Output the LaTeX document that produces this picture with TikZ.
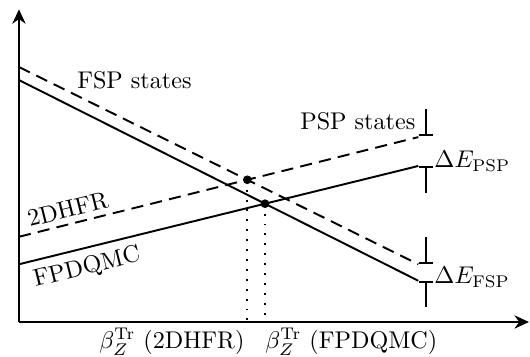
\documentclass[tikz,border=0pt]{standalone}
\usepackage{amsmath}
\usetikzlibrary{arrows.meta}
\tikzset{
  axis/.style={thick,-{Stealth[length=6pt,width=5.5pt]}},
  level/.style={thick},
  hflevel/.style={thick,dash pattern=on 5pt off 3pt},
  gapbar/.style={thick,-{Bar[width=6pt]}},
  drop/.style={line width=0.8pt,dash pattern=on 0.8pt off 3.3pt},
  crossing/.style={circle,fill,inner sep=0pt,minimum size=3.6pt},
}

\begin{document}
\begin{tikzpicture}
    \useasboundingbox (-0.276,-0.495) rectangle (7.435,4.685);
    % axes
    \coordinate (o) at (0,0);
    \coordinate (ytip) at (0,4.55);
    \coordinate (xtip) at (7.42,0);
    \draw[axis] (o) -- (ytip);
    \draw[axis] (o) -- (xtip);

    % FSP states
    \coordinate (fd0) at (0,3.71);
    \coordinate (fd1) at (5.81,0.84);
    \coordinate (fs0) at (0,3.52);
    \coordinate (fs1) at (5.81,0.60);
    % PSP states
    \coordinate (pd0) at (0,1.24);
    \coordinate (pd1) at (5.81,2.69);
    \coordinate (ps0) at (0,0.84);
    \coordinate (ps1) at (5.81,2.27);

    \draw[hflevel] (fd0) -- (fd1);
    \draw[level] (fs0) -- (fs1);
    \draw[hflevel] (pd0) -- (pd1);
    \draw[level] (ps0) -- (ps1);

    % crossings
    \coordinate (xd) at (intersection of fd0--fd1 and pd0--pd1);
    \coordinate (xs) at (intersection of fs0--fs1 and ps0--ps1);
    \coordinate (xdfoot) at (xd |- o);
    \coordinate (xsfoot) at (xs |- o);
    \draw[drop] (xd) -- (xdfoot);
    \draw[drop] (xs) -- (xsfoot);
    \node[crossing] (dotd) at (xd) {};
    \node[crossing] (dots) at (xs) {};

    % energy gaps
    \coordinate (pgtop) at (5.92,3.10);
    \coordinate (pgup) at (5.92,2.70);
    \coordinate (pglo) at (5.92,2.27);
    \coordinate (pgbot) at (5.92,1.88);
    \coordinate (fgtop) at (5.92,1.24);
    \coordinate (fgup) at (5.92,0.84);
    \coordinate (fglo) at (5.92,0.60);
    \coordinate (fgbot) at (5.92,0.22);
    \draw[gapbar] (pgtop) -- (pgup);
    \draw[gapbar] (pgbot) -- (pglo);
    \draw[gapbar] (fgtop) -- (fgup);
    \draw[gapbar] (fgbot) -- (fglo);

    % labels
    \node (fsplbl) at (1.68,3.51) {FSP states};
    \node (psplbl) at (4.93,2.92) {PSP states};
    \node[right] (dpsp) at (5.92,2.34) {$\Delta E_{\text{PSP}}$};
    \node[right] (dfsp) at (5.92,0.65) {$\Delta E_{\text{FSP}}$};
    \node[rotate=14] (hflbl) at (0.71,1.64) {2DHFR};
    \node[rotate=14] (qmclbl) at (0.99,0.79) {FPDQMC};
    \node[anchor=north east,inner xsep=1pt,inner ysep=2.5pt] (bhf) at (xdfoot)
      {$\beta_Z^{\text{Tr}}$ (2DHFR)};
    \node[anchor=north west,inner xsep=0pt,inner ysep=2.5pt] (bqmc) at (xsfoot)
      {$\beta_Z^{\text{Tr}}$ (FPDQMC)};
\end{tikzpicture}
\end{document}
